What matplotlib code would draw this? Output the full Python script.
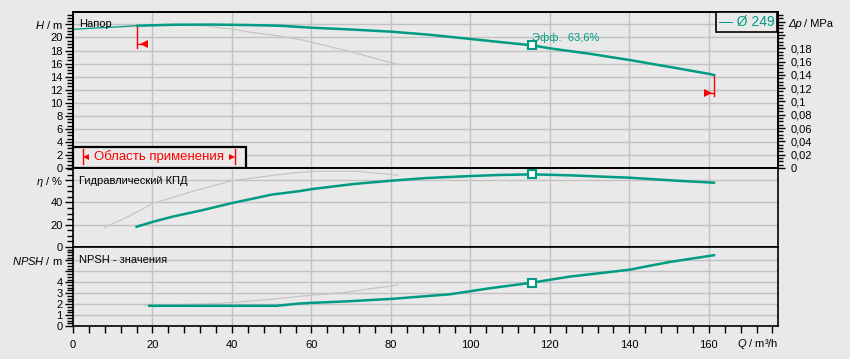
import numpy as np
import matplotlib.pyplot as plt
from matplotlib.patches import Rectangle
from matplotlib.ticker import MultipleLocator, FixedLocator

plt.rcParams['font.family'] = ['Liberation Sans', 'DejaVu Sans']
plt.rcParams['mathtext.fontset'] = 'custom'
plt.rcParams['mathtext.it'] = 'Liberation Sans:italic'
plt.rcParams['mathtext.rm'] = 'Liberation Sans'

# --- data ---
# head (m), thin part before the operating range
h_q_thin = [0, 4.3, 8, 11.8, 16.2]
h_thin = [21.24, 21.4, 21.52, 21.64, 21.8]
# head, operating range
h_q = [16.2, 25.7, 35, 44.5, 52, 60.2, 70, 80.2, 90, 100.3, 107.4, 115.6, 120, 130, 140.1, 150, 160.3, 161.3]
h_val = [21.8, 21.95, 21.97, 21.9, 21.8, 21.49, 21.22, 20.88, 20.4, 19.75, 19.3, 18.79, 18.33, 17.5, 16.54, 15.5, 14.39, 14.24]
# grey reference head curve
hg_q = [13.5, 20, 25, 33, 40.3, 44.5, 50, 57, 60.2, 70, 80.2, 81.8]
hg_val = [21.9, 21.95, 22.0, 21.8, 21.25, 20.8, 20.4, 19.7, 19.25, 17.8, 16.1, 15.9]

# hydraulic efficiency (%)
eta_q = [16, 20.2, 25, 32, 40.1, 43.7, 50, 57.1, 60.2, 70.5, 80.1, 89, 100.2, 107, 115.6, 125, 140, 151.9, 161.3]
eta_val = [18.2, 22.7, 27.2, 32.6, 39.5, 42.2, 47, 50.2, 52, 56.5, 59.5, 61.9, 63.7, 64.6, 65.2, 64.3, 62.2, 59.5, 57.7]
etag_q = [8, 14, 20.2, 30, 40, 50, 57, 61, 67, 72, 76.4, 79.7, 81.8]
etag_val = [17.6, 27.5, 39.2, 49.8, 59.5, 64.2, 67, 67.9, 68, 67.9, 66.1, 65.2, 64.3]

# NPSH (m)
npsh_q = [19.2, 30, 40, 51.2, 57.1, 60.2, 68, 80.1, 89.8, 94.8, 105, 115.6, 125, 140, 150, 161.3]
npsh_val = [1.85, 1.85, 1.85, 1.85, 2.06, 2.12, 2.24, 2.48, 2.76, 2.9, 3.46, 3.97, 4.52, 5.15, 5.85, 6.48]
npshg_q = [18.1, 25, 35.3, 40, 50, 60.2, 68.8, 75, 80, 81.8]
npshg_val = [1.9, 1.95, 2.06, 2.15, 2.45, 2.82, 3.09, 3.42, 3.66, 3.79]

# duty point and operating range limits
duty_q = 115.6
duty_h, duty_eta, duty_npsh = 18.79, 65.2, 3.97
q_min, q_max = 16.2, 161.3
lim_low = [18.42, 11.03]
lim_arrow = [18.94, 11.44]

BG = '#e9e9e9'
TEAL = '#009b83'
GREY = '#c6c6c6'
GRID = '#c2c2c2'
RED = '#ff0000'
MPA_PER_M = 0.00981

W, HP = 850, 359


def box(x0, y0, x1, y1):
    return [x0 / W, 1 - y1 / HP, (x1 - x0) / W, (y1 - y0) / HP]


fig = plt.figure(figsize=(8.5, 3.59), dpi=100, facecolor=BG)
ax_h = fig.add_axes(box(73, 12, 778, 168))
ax_e = fig.add_axes(box(73, 168, 778, 247), sharex=ax_h)
ax_n = fig.add_axes(box(73, 247, 778, 326), sharex=ax_h)

for ax in (ax_h, ax_e, ax_n):
    ax.set_facecolor(BG)
    for s in ax.spines.values():
        s.set_color('black')
        s.set_linewidth(1.2)
    ax.grid(True, which='major', color=GRID, lw=1.0)
    ax.set_axisbelow(True)
    ax.tick_params(axis='y', which='major', direction='out', length=6, width=1, labelsize=8, pad=1.5)
    ax.tick_params(axis='y', which='minor', direction='out', length=4, width=1)
    ax.tick_params(axis='x', which='both', length=0, labelbottom=False)

ax_h.set_xlim(0, 177.4)
ax_h.xaxis.set_major_locator(MultipleLocator(20))
ax_h.xaxis.set_minor_locator(MultipleLocator(4))

# --- head panel ---
ax_h.set_ylim(0, 23.9)
ax_h.yaxis.set_major_locator(FixedLocator(np.arange(0, 23, 2)))
ax_h.set_yticklabels([str(v) for v in range(0, 21, 2)] + ['$H$ / m'])
ax_h.yaxis.set_minor_locator(MultipleLocator(0.5))
ax_h.plot(hg_q, hg_val, color=GREY, lw=0.9, zorder=2)
ax_h.plot(h_q_thin, h_thin, color=TEAL, lw=0.9, zorder=3)
ax_h.plot(h_q, h_val, color=TEAL, lw=1.8, zorder=3)
ax_h.plot(duty_q, duty_h, 's', ms=6, mfc='white', mec=TEAL, mew=1.5, zorder=4)
ax_h.text(1.5, 22.05, 'Напор', fontsize=8, va='center', ha='left')
ax_h.text(duty_q, 19.9, 'Эфф.  63,6%', fontsize=8, color=TEAL, va='center', ha='left')

# operating range limit markers
ax_h.plot([q_min, q_min], [h_val[0], lim_low[0]], color=RED, lw=1)
ax_h.plot([q_min, q_min + 1.0], [lim_arrow[0], lim_arrow[0]], color=RED, lw=1)
ax_h.plot(q_min + 1.6, lim_arrow[0], marker='<', ms=6, color=RED, mew=0)
ax_h.plot([q_max, q_max], [h_val[-1], lim_low[1]], color=RED, lw=1)
ax_h.plot([q_max, q_max - 1.0], [lim_arrow[1], lim_arrow[1]], color=RED, lw=1)
ax_h.plot(q_max - 1.6, lim_arrow[1], marker='>', ms=6, color=RED, mew=0)

# pressure axis on the right
ax_p = ax_h.twinx()
ax_p.set_ylim(0, 23.9 * MPA_PER_M)
p_ticks = np.round(np.arange(0, 0.23, 0.02), 2)
ax_p.yaxis.set_major_locator(FixedLocator(p_ticks))
ax_p.set_yticklabels([('%g' % v).replace('.', ',') if v < 0.19 else '' for v in p_ticks])
ax_p.yaxis.set_minor_locator(MultipleLocator(0.005))
ax_p.tick_params(axis='y', which='major', direction='out', length=5, width=1, labelsize=8, pad=4)
ax_p.tick_params(axis='y', which='minor', direction='out', length=3.5, width=1)
for s in ax_p.spines.values():
    s.set_color('black')
    s.set_linewidth(1.2)
fig.text(788 / W, 1 - 24 / HP, 'Δp', fontsize=8, fontstyle='italic', va='center', ha='left')
fig.text(804 / W, 1 - 24 / HP, '/ MPa', fontsize=8, va='center', ha='left')

# legend box
fig.patches.append(Rectangle((715.7 / W, 1 - 32.3 / HP), 61 / W, 20.6 / HP, transform=fig.transFigure,
                             facecolor=BG, edgecolor='black', lw=1.2, zorder=5))
fig.text(747 / W, 1 - 22.5 / HP, '— Ø 249', color=TEAL, fontsize=10, va='center', ha='center', zorder=6)

# operating range box
ax_h.add_patch(Rectangle((0, 0), 0.2454, 0.1365, transform=ax_h.transAxes, facecolor=BG,
                         edgecolor='black', lw=1.6, zorder=5, clip_on=False))
for xb in (0.0138, 0.2302):
    ax_h.plot([xb, xb], [0.026, 0.122], color=RED, lw=1, transform=ax_h.transAxes, zorder=6)
ax_h.plot(0.0185, 0.0705, marker='<', ms=4.5, color=RED, mew=0, transform=ax_h.transAxes, zorder=6)
ax_h.plot(0.2255, 0.0705, marker='>', ms=4.5, color=RED, mew=0, transform=ax_h.transAxes, zorder=6)
ax_h.text(0.122, 0.0705, 'Область применения', color=RED, fontsize=9.5, va='center', ha='center',
          transform=ax_h.transAxes, zorder=6)

# --- efficiency panel ---
ax_e.set_ylim(0, 70.9)
ax_e.yaxis.set_major_locator(FixedLocator([0, 20, 40, 60]))
ax_e.set_yticklabels(['0', '20', '40', r'$\eta$ / %'])
ax_e.yaxis.set_minor_locator(MultipleLocator(5))
ax_e.plot(etag_q, etag_val, color=GREY, lw=0.9, zorder=2)
ax_e.plot(eta_q, eta_val, color=TEAL, lw=1.8, zorder=3)
ax_e.plot(duty_q, duty_eta, 's', ms=6, mfc='white', mec=TEAL, mew=1.5, zorder=4)
ax_e.text(1.5, 59.2, 'Гидравлический КПД', fontsize=8, va='center', ha='left')

# --- NPSH panel ---
ax_n.set_ylim(0, 7.23)
ax_n.yaxis.set_major_locator(FixedLocator([0, 1, 2, 3, 4, 5, 6]))
ax_n.set_yticklabels(['0', '1', '2', '3', '4', '', '$NPSH$ / m'])
ax_n.yaxis.set_minor_locator(MultipleLocator(0.25))
ax_n.plot(npshg_q, npshg_val, color=GREY, lw=0.9, zorder=2)
ax_n.plot(npsh_q, npsh_val, color=TEAL, lw=1.8, zorder=3)
ax_n.plot(duty_q, duty_npsh, 's', ms=6, mfc='white', mec=TEAL, mew=1.5, zorder=4)
ax_n.text(1.5, 6.05, 'NPSH - значения', fontsize=8, va='center', ha='left')

ax_n.tick_params(axis='x', which='major', direction='out', length=5, width=1, labelsize=8,
                 labelbottom=True, pad=5)
ax_n.tick_params(axis='x', which='minor', direction='out', length=5, width=1)
ax_n.set_xticks(np.arange(0, 161, 20))
ax_n.set_xlim(0, 177.4)
fig.text(778 / W, 1 - 344 / HP, '$Q$ / m³/h', fontsize=8, va='center', ha='right')

plt.savefig('out.png', dpi=100, facecolor=BG)
